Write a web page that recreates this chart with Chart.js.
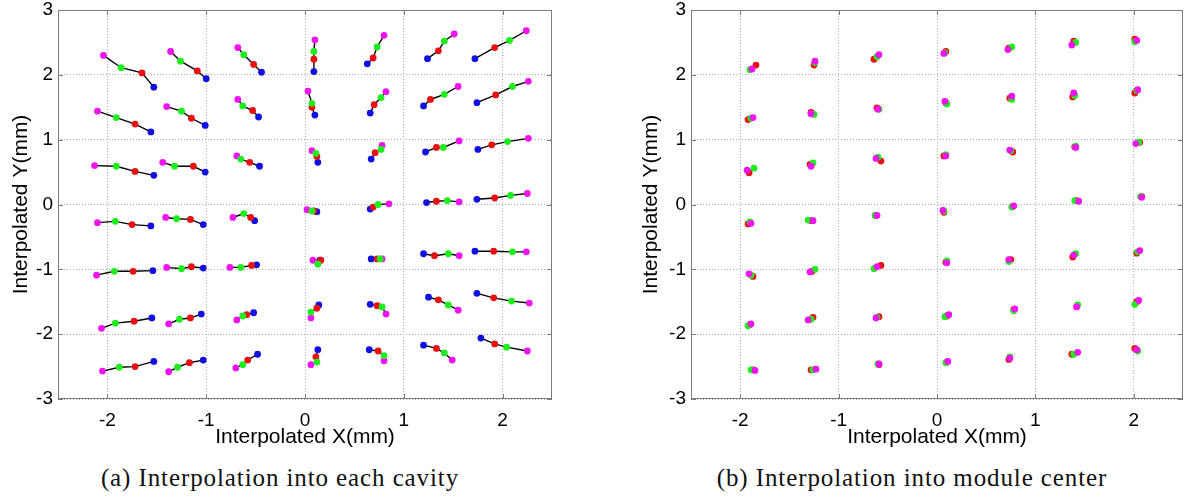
<!DOCTYPE html>
<html>
<head>
<meta charset="utf-8">
<script src="https://cdn.jsdelivr.net/npm/chart.js@4.4.1/dist/chart.umd.min.js"></script>
<style>
body { margin: 0; background: #fff; width: 1192px; height: 502px; overflow: hidden; position: relative; }
canvas { position: absolute; top: 0; }
#cavity { left: 0; }
#center { left: 630px; }
.caption { position: absolute; top: 465px; line-height: 25px; font-family: "Liberation Serif", serif; font-size: 25px; letter-spacing: 0.9px; white-space: nowrap; transform: translateX(-50%); color: #111; }
</style>
</head>
<body>
<canvas id="cavity" width="560" height="450"></canvas>
<canvas id="center" width="561" height="450"></canvas>
<div class="caption" style="left:280px">(a) Interpolation into each cavity</div>
<div class="caption" style="left:912px">(b) Interpolation into module center</div>
<script>
// tick labels
const xTicks = [-2, -1, 0, 1, 2];
const yTicks = [-3, -2, -1, 0, 1, 2, 3];

// (a) each cavity: 7x7 groups, rows top to bottom, columns left to right
const cavMagenta = [
  [-2.04, 2.30], [-1.36, 2.36], [-0.68, 2.42], [0.10, 2.54], [0.80, 2.61], [1.51, 2.63], [2.24, 2.68],
  [-2.10, 1.44], [-1.40, 1.51], [-0.68, 1.62], [0.03, 1.75], [0.82, 1.74], [1.55, 1.82], [2.26, 1.90],
  [-2.13, 0.60], [-1.44, 0.65], [-0.69, 0.75], [0.07, 0.83], [0.78, 0.91], [1.56, 0.98], [2.26, 1.02],
  [-2.10, -0.28], [-1.41, -0.20], [-0.73, -0.20], [0.02, -0.08], [0.85, 0.01], [1.56, 0.04], [2.25, 0.17],
  [-2.11, -1.09], [-1.40, -0.97], [-0.76, -0.97], [0.08, -0.86], [0.78, -0.84], [1.56, -0.79], [2.24, -0.73],
  [-2.06, -1.91], [-1.38, -1.84], [-0.69, -1.78], [0.06, -1.75], [0.82, -1.69], [1.55, -1.63], [2.27, -1.52],
  [-2.05, -2.57], [-1.38, -2.58], [-0.70, -2.52], [0.06, -2.47], [0.80, -2.41], [1.49, -2.40], [2.25, -2.26]
];
const cavGreen = [
  [-1.86, 2.11], [-1.26, 2.21], [-0.62, 2.31], [0.09, 2.36], [0.73, 2.43], [1.41, 2.52], [2.07, 2.53],
  [-1.91, 1.34], [-1.25, 1.44], [-0.63, 1.52], [0.07, 1.56], [0.77, 1.65], [1.41, 1.70], [2.10, 1.82],
  [-1.91, 0.59], [-1.32, 0.59], [-0.65, 0.70], [0.11, 0.79], [0.77, 0.85], [1.40, 0.88], [2.05, 0.97],
  [-1.92, -0.26], [-1.30, -0.22], [-0.62, -0.14], [0.07, -0.10], [0.74, 0.00], [1.44, 0.06], [2.08, 0.14],
  [-1.93, -1.03], [-1.25, -0.99], [-0.65, -0.97], [0.13, -0.92], [0.76, -0.84], [1.45, -0.76], [2.10, -0.73],
  [-1.92, -1.83], [-1.27, -1.77], [-0.63, -1.72], [0.06, -1.66], [0.78, -1.58], [1.45, -1.55], [2.09, -1.49],
  [-1.88, -2.51], [-1.29, -2.51], [-0.63, -2.47], [0.12, -2.43], [0.80, -2.33], [1.41, -2.29], [2.04, -2.20]
];
const cavRed = [
  [-1.65, 2.03], [-1.09, 2.06], [-0.52, 2.16], [0.09, 2.24], [0.69, 2.26], [1.35, 2.37], [1.92, 2.42],
  [-1.72, 1.24], [-1.15, 1.33], [-0.53, 1.45], [0.07, 1.50], [0.70, 1.54], [1.27, 1.62], [1.93, 1.69],
  [-1.72, 0.51], [-1.13, 0.59], [-0.56, 0.65], [0.12, 0.74], [0.71, 0.80], [1.33, 0.88], [1.89, 0.92],
  [-1.75, -0.31], [-1.16, -0.23], [-0.55, -0.20], [0.09, -0.10], [0.69, -0.04], [1.33, 0.05], [1.92, 0.10],
  [-1.74, -1.03], [-1.15, -0.96], [-0.54, -0.94], [0.16, -0.86], [0.73, -0.84], [1.31, -0.79], [1.91, -0.72],
  [-1.73, -1.80], [-1.16, -1.75], [-0.59, -1.70], [0.12, -1.60], [0.73, -1.56], [1.35, -1.47], [1.91, -1.44],
  [-1.72, -2.50], [-1.17, -2.44], [-0.58, -2.40], [0.11, -2.35], [0.74, -2.26], [1.33, -2.22], [1.92, -2.15]
];
const cavBlue = [
  [-1.53, 1.81], [-1.00, 1.94], [-0.44, 2.04], [0.09, 2.05], [0.63, 2.17], [1.24, 2.25], [1.72, 2.25],
  [-1.56, 1.12], [-1.01, 1.22], [-0.47, 1.35], [0.10, 1.38], [0.66, 1.41], [1.20, 1.52], [1.74, 1.57],
  [-1.53, 0.45], [-1.01, 0.50], [-0.46, 0.59], [0.13, 0.65], [0.67, 0.70], [1.22, 0.81], [1.75, 0.85],
  [-1.56, -0.33], [-1.03, -0.31], [-0.51, -0.25], [0.12, -0.11], [0.66, -0.07], [1.23, 0.03], [1.74, 0.08],
  [-1.54, -1.02], [-1.03, -0.98], [-0.49, -0.93], [0.15, -0.86], [0.67, -0.84], [1.20, -0.76], [1.72, -0.72],
  [-1.55, -1.75], [-1.05, -1.69], [-0.52, -1.67], [0.14, -1.55], [0.66, -1.54], [1.25, -1.43], [1.74, -1.37],
  [-1.53, -2.42], [-1.03, -2.40], [-0.48, -2.31], [0.13, -2.24], [0.65, -2.24], [1.20, -2.17], [1.78, -2.06]
];

// (b) module center
const modMagenta = [
  [-1.88, 2.09], [-1.24, 2.21], [-0.59, 2.31], [0.07, 2.33], [0.72, 2.39], [1.37, 2.46], [2.03, 2.53],
  [-1.87, 1.34], [-1.28, 1.40], [-0.60, 1.47], [0.08, 1.59], [0.76, 1.67], [1.39, 1.72], [2.04, 1.77],
  [-1.93, 0.53], [-1.28, 0.59], [-0.62, 0.71], [0.09, 0.75], [0.74, 0.84], [1.41, 0.88], [2.02, 0.94],
  [-1.89, -0.29], [-1.26, -0.25], [-0.61, -0.17], [0.06, -0.09], [0.78, -0.02], [1.44, 0.05], [2.08, 0.11],
  [-1.91, -1.07], [-1.29, -1.04], [-0.61, -0.96], [0.10, -0.90], [0.73, -0.85], [1.39, -0.78], [2.06, -0.71],
  [-1.89, -1.84], [-1.31, -1.78], [-0.62, -1.75], [0.12, -1.70], [0.79, -1.61], [1.42, -1.58], [2.05, -1.48],
  [-1.85, -2.56], [-1.23, -2.54], [-0.59, -2.46], [0.11, -2.42], [0.74, -2.37], [1.43, -2.28], [2.03, -2.24]
];
const modGreen = [
  [-1.90, 2.08], [-1.24, 2.19], [-0.61, 2.28], [0.08, 2.34], [0.76, 2.43], [1.41, 2.50], [2.01, 2.51],
  [-1.89, 1.33], [-1.25, 1.39], [-0.59, 1.47], [0.10, 1.55], [0.76, 1.62], [1.40, 1.68], [2.03, 1.76],
  [-1.86, 0.56], [-1.26, 0.64], [-0.60, 0.73], [0.09, 0.77], [0.75, 0.83], [1.41, 0.90], [2.05, 0.96],
  [-1.90, -0.27], [-1.31, -0.24], [-0.63, -0.17], [0.07, -0.10], [0.76, -0.04], [1.40, 0.06], [2.07, 0.12],
  [-1.89, -1.09], [-1.24, -1.00], [-0.64, -0.99], [0.10, -0.87], [0.73, -0.88], [1.41, -0.76], [2.04, -0.73],
  [-1.92, -1.87], [-1.28, -1.77], [-0.61, -1.74], [0.08, -1.73], [0.78, -1.64], [1.43, -1.55], [2.01, -1.54],
  [-1.89, -2.55], [-1.26, -2.55], [-0.60, -2.46], [0.09, -2.44], [0.74, -2.35], [1.39, -2.31], [2.04, -2.26]
];
const modRed = [
  [-1.84, 2.15], [-1.25, 2.15], [-0.64, 2.24], [0.09, 2.36], [0.73, 2.41], [1.39, 2.52], [2.01, 2.55],
  [-1.92, 1.31], [-1.28, 1.42], [-0.61, 1.49], [0.09, 1.57], [0.74, 1.64], [1.38, 1.66], [2.01, 1.72],
  [-1.91, 0.49], [-1.29, 0.62], [-0.57, 0.67], [0.07, 0.75], [0.77, 0.81], [1.40, 0.89], [2.06, 0.96],
  [-1.92, -0.30], [-1.28, -0.25], [-0.62, -0.17], [0.07, -0.12], [0.77, -0.03], [1.42, 0.06], [2.08, 0.12],
  [-1.87, -1.11], [-1.27, -1.03], [-0.57, -0.94], [0.09, -0.89], [0.75, -0.85], [1.38, -0.81], [2.03, -0.75],
  [-1.90, -1.85], [-1.26, -1.74], [-0.59, -1.73], [0.10, -1.72], [0.78, -1.62], [1.42, -1.57], [2.03, -1.50],
  [-1.87, -2.55], [-1.28, -2.55], [-0.59, -2.47], [0.10, -2.43], [0.73, -2.39], [1.37, -2.31], [2.01, -2.22]
];

const MAGENTA = 'rgb(240, 20, 240)';
const GREEN = 'rgb(30, 238, 30)';
const RED = 'rgb(232, 16, 16)';
const BLUE = 'rgb(16, 16, 226)';

function toPoints(list) {
  return list.map(p => ({ x: p[0], y: p[1] }));
}

function pointSet(list, color, order) {
  return {
    data: toPoints(list),
    backgroundColor: color,
    borderWidth: 0,
    pointRadius: 3.4,
    order: order
  };
}

// black segments joining the four points of each cavity
function groupLines() {
  const sets = [];
  for (let i = 0; i < cavMagenta.length; i++) {
    sets.push({
      data: toPoints([cavMagenta[i], cavGreen[i], cavRed[i], cavBlue[i]]),
      showLine: true,
      borderColor: '#000',
      borderWidth: 1.4,
      pointRadius: 0,
      order: 10
    });
  }
  return sets;
}

// box round the plot with small inward ticks
const frame = {
  id: 'frame',
  afterDraw(chart) {
    const { ctx, chartArea: a, scales } = chart;
    ctx.save();
    ctx.strokeStyle = '#7c7c7c';
    ctx.lineWidth = 1;
    ctx.strokeRect(a.left + 0.5, a.top + 0.5, a.right - a.left - 1, a.bottom - a.top - 1);
    ctx.beginPath();
    xTicks.forEach(v => {
      const px = Math.round(scales.x.getPixelForValue(v)) + 0.5;
      ctx.moveTo(px, a.top); ctx.lineTo(px, a.top + 5);
      ctx.moveTo(px, a.bottom); ctx.lineTo(px, a.bottom - 5);
    });
    yTicks.forEach(v => {
      const py = Math.round(scales.y.getPixelForValue(v)) + 0.5;
      ctx.moveTo(a.left, py); ctx.lineTo(a.left + 5, py);
      ctx.moveTo(a.right, py); ctx.lineTo(a.right - 5, py);
    });
    ctx.stroke();
    ctx.restore();
  }
};

function makeOptions(axisWidth) {
  const tickFont = { family: '"Liberation Sans", Arial, sans-serif', size: 19, lineHeight: 1 };
  const titleFont = { family: '"Liberation Sans", Arial, sans-serif', size: 21, lineHeight: 1.2 };
  const grid = { color: '#b0b0b0', lineWidth: 1, drawTicks: false };
  return {
    responsive: false,
    animation: false,
    events: [],
    layout: { padding: { top: 10, right: 8, left: 0, bottom: 0 } },
    plugins: { legend: { display: false }, tooltip: { enabled: false } },
    scales: {
      x: {
        type: 'linear', min: -2.5, max: 2.5,
        afterBuildTicks: s => { s.ticks = xTicks.map(v => ({ value: v })); },
        afterFit: s => { s.height = 51; s.paddingLeft = 0; s.paddingRight = 0; },
        ticks: { font: tickFont, color: '#000', padding: 12, maxRotation: 0 },
        grid: grid,
        border: { display: false, dash: [1, 2] },
        title: { display: true, text: 'Interpolated X(mm)', font: titleFont, color: '#000', padding: { top: 0, bottom: 0 } }
      },
      y: {
        type: 'linear', min: -3, max: 3,
        afterBuildTicks: s => { s.ticks = yTicks.map(v => ({ value: v })); },
        afterFit: s => { s.width = axisWidth; s.paddingTop = 0; s.paddingBottom = 0; },
        ticks: { font: tickFont, color: '#000', padding: 5 },
        grid: grid,
        border: { display: false, dash: [1, 2] },
        title: { display: true, text: 'Interpolated Y(mm)', font: titleFont, color: '#000', padding: { top: 9, bottom: 0 } }
      }
    }
  };
}

new Chart(document.getElementById('cavity'), {
  type: 'scatter',
  data: {
    datasets: groupLines().concat([
      pointSet(cavBlue, BLUE, 4),
      pointSet(cavRed, RED, 3),
      pointSet(cavMagenta, MAGENTA, 2),
      pointSet(cavGreen, GREEN, 1)
    ])
  },
  options: makeOptions(58),
  plugins: [frame]
});

new Chart(document.getElementById('center'), {
  type: 'scatter',
  data: {
    datasets: [
      pointSet(modRed, RED, 3),
      pointSet(modGreen, GREEN, 2),
      pointSet(modMagenta, MAGENTA, 1)
    ]
  },
  options: makeOptions(61),
  plugins: [frame]
});
</script>
</body>
</html>
